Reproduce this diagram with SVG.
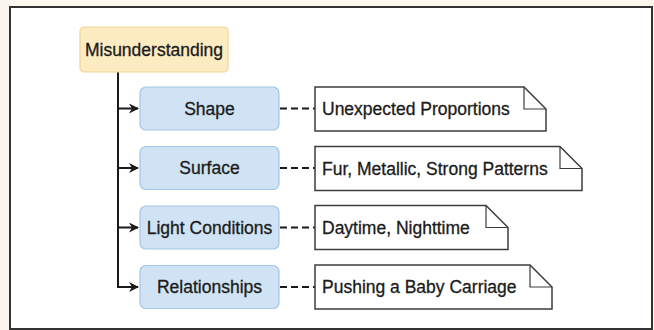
<svg xmlns="http://www.w3.org/2000/svg" width="654" height="330" viewBox="0 0 654 330">
  <style>
    text { font-family: "Liberation Sans", Arial, Helvetica, sans-serif; font-size: 17.5px; fill: #1b1b1b; stroke: #1b1b1b; stroke-width: 0.3; }
    .root { fill: #fdebc2; stroke: #f1d593; stroke-width: 1.2; }
    .topic { fill: #cfe3f4; stroke: #a3c6e6; stroke-width: 1.2; }
    .note { fill: #ffffff; stroke: #3c3c3c; stroke-width: 1.5; stroke-linejoin: miter; }
    .fold { fill: none; stroke: #3c3c3c; stroke-width: 1.2; }
    .tree { fill: none; stroke: #1a1a1a; stroke-width: 2; }
    .dash { fill: none; stroke: #1a1a1a; stroke-width: 1.9; stroke-dasharray: 7 4; }
  </style>
  <defs>
    <marker id="arrow" viewBox="0 0 10 10" refX="9" refY="5" markerWidth="10" markerHeight="10" markerUnits="userSpaceOnUse" orient="auto">
      <path d="M0,0 L10,5 L0,10 L3,5 Z" fill="#1a1a1a"/>
    </marker>
  </defs>

  <!-- page background and frame -->
  <rect x="0" y="0" width="654" height="330" fill="#fcf6ee"/>
  <rect x="10" y="7" width="642" height="322" fill="#ffffff" stroke="#333333" stroke-width="2"/>

  <!-- connectors -->
  <g id="connectors">
    <path class="tree" d="M118,72 V108.5 H138" marker-end="url(#arrow)"/>
    <path class="tree" d="M118,72 V168 H138" marker-end="url(#arrow)"/>
    <path class="tree" d="M118,72 V227.5 H138" marker-end="url(#arrow)"/>
    <path class="tree" d="M118,72 V287 H138" marker-end="url(#arrow)"/>
    <path class="dash" d="M280,108.5 H315"/>
    <path class="dash" d="M280,168 H315"/>
    <path class="dash" d="M280,227.5 H315"/>
    <path class="dash" d="M280,287 H315"/>
  </g>

  <!-- root -->
  <g id="misunderstanding">
    <rect class="root" x="80" y="27" width="148" height="45" rx="4"/>
    <text x="154" y="55.5" text-anchor="middle">Misunderstanding</text>
  </g>

  <!-- aspects -->
  <g id="shape">
    <rect class="topic" x="140" y="87" width="139" height="43" rx="6"/>
    <text x="209.5" y="114.5" text-anchor="middle">Shape</text>
  </g>
  <g id="surface">
    <rect class="topic" x="140" y="146.5" width="139" height="43" rx="6"/>
    <text x="209.5" y="174" text-anchor="middle">Surface</text>
  </g>
  <g id="light-conditions">
    <rect class="topic" x="140" y="206" width="139" height="43" rx="6"/>
    <text x="209.5" y="233.5" text-anchor="middle">Light Conditions</text>
  </g>
  <g id="relationships">
    <rect class="topic" x="140" y="265.5" width="139" height="43" rx="6"/>
    <text x="209.5" y="293" text-anchor="middle">Relationships</text>
  </g>

  <!-- notes with folded corner -->
  <g id="note-shape">
    <path class="note" d="M315,87 H524 L546,109 V131 H315 Z"/>
    <path class="fold" d="M524,87 V109 H546"/>
    <text x="322" y="115">Unexpected Proportions</text>
  </g>
  <g id="note-surface">
    <path class="note" d="M315,146.5 H560 L582,168.5 V190.5 H315 Z"/>
    <path class="fold" d="M560,146.5 V168.5 H582"/>
    <text x="322" y="174.5">Fur, Metallic, Strong Patterns</text>
  </g>
  <g id="note-light">
    <path class="note" d="M315,205.5 H486 L508,227.5 V249.5 H315 Z"/>
    <path class="fold" d="M486,205.5 V227.5 H508"/>
    <text x="322" y="233.5">Daytime, Nighttime</text>
  </g>
  <g id="note-relationships">
    <path class="note" d="M315,265 H530 L552,287 V309 H315 Z"/>
    <path class="fold" d="M530,265 V287 H552"/>
    <text x="322" y="293">Pushing a Baby Carriage</text>
  </g>
</svg>
